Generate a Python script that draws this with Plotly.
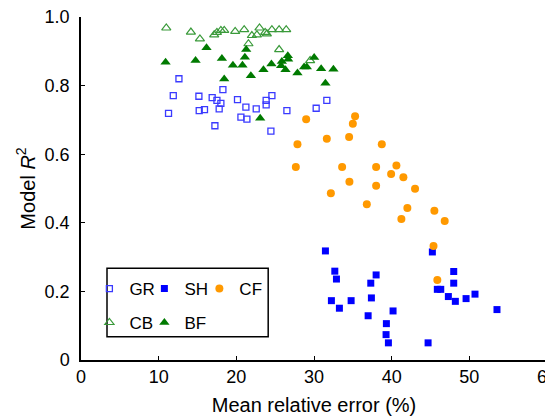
import plotly.graph_objects as go

# ---- data ----
gr_x = [12.61, 11.88, 11.27, 15.18, 16.89, 17.50, 18.01, 18.27, 17.79, 15.22, 15.90, 17.24,
        20.15, 21.23, 22.56, 23.84, 24.58, 23.84, 20.59, 21.36, 26.51, 24.45, 30.28, 31.65]
gr_y = [0.820, 0.771, 0.719, 0.769, 0.765, 0.757, 0.748, 0.788, 0.732, 0.727, 0.730, 0.683,
        0.759, 0.737, 0.732, 0.757, 0.771, 0.744, 0.708, 0.702, 0.727, 0.667, 0.734, 0.757]

sh_x = [31.47, 32.68, 32.89, 32.24, 33.27, 34.78, 38.00, 37.31, 37.39, 40.18, 36.97, 39.32,
        39.28, 39.58, 44.69, 45.24, 47.99, 47.99, 45.88, 46.32, 47.30, 48.20, 49.58, 50.73, 53.56]
sh_y = [0.318, 0.259, 0.236, 0.173, 0.151, 0.173, 0.248, 0.224, 0.181, 0.143, 0.129, 0.106,
        0.074, 0.050, 0.050, 0.315, 0.258, 0.224, 0.206, 0.206, 0.185, 0.171, 0.179, 0.192, 0.147]

cf_x = [28.99, 31.65, 35.29, 35.00, 27.87, 34.52, 38.73, 27.66, 33.62, 38.00, 40.61, 39.93,
        41.51, 34.56, 38.00, 32.17, 43.01, 36.80, 42.02, 41.25, 45.50, 46.83, 45.39, 45.88]
cf_y = [0.702, 0.645, 0.711, 0.689, 0.629, 0.650, 0.629, 0.563, 0.563, 0.563, 0.567, 0.542,
        0.533, 0.520, 0.508, 0.486, 0.499, 0.454, 0.443, 0.411, 0.435, 0.405, 0.332, 0.233]

cb_x = [10.98, 14.15, 15.31, 17.15, 17.50, 18.01, 18.44, 19.85, 21.01, 22.00, 22.65, 22.98,
        23.71, 23.93, 24.58, 25.51, 26.42, 21.56, 25.51, 29.50]
cb_y = [0.968, 0.956, 0.936, 0.948, 0.955, 0.961, 0.961, 0.958, 0.963, 0.946, 0.948, 0.968,
        0.955, 0.951, 0.963, 0.963, 0.963, 0.922, 0.905, 0.873]

bf_x = [16.16, 10.89, 14.75, 18.14, 18.44, 21.27, 21.10, 19.56, 20.79, 21.87, 23.49, 24.52,
        25.86, 25.77, 26.63, 26.67, 26.33, 27.87, 28.73, 29.08, 30.02, 30.92, 32.50, 31.47, 23.07]
bf_y = [0.910, 0.868, 0.873, 0.879, 0.819, 0.905, 0.883, 0.859, 0.859, 0.829, 0.846, 0.863,
        0.870, 0.858, 0.887, 0.877, 0.846, 0.837, 0.854, 0.854, 0.882, 0.849, 0.848, 0.807, 0.705]

x_ticks = [0, 10, 20, 30, 40, 50, 60]
y_ticks = [0, 0.2, 0.4, 0.6, 0.8, 1.0]
y_tick_text = ["0", "0.2", "0.4", "0.6", "0.8", "1.0"]

FONT = "Liberation Sans, Arial, sans-serif"

fig = go.Figure()
fig.add_trace(go.Scatter(x=gr_x, y=gr_y, mode="markers", name="GR", legend="legend",
                         marker=dict(symbol="square-open", size=6, color="#3a3aff",
                                     line=dict(width=1.3, color="#3a3aff"))))
fig.add_trace(go.Scatter(x=sh_x, y=sh_y, mode="markers", name="SH", legend="legend2",
                         marker=dict(symbol="square", size=7, color="#0000ff")))
fig.add_trace(go.Scatter(x=cf_x, y=cf_y, mode="markers", name="CF", legend="legend3",
                         marker=dict(symbol="circle", size=8, color="#ff9900")))
fig.add_trace(go.Scatter(x=cb_x, y=cb_y, mode="markers", name="CB", legend="legend4",
                         marker=dict(symbol="triangle-up-open", size=8, color="#3a9a3a",
                                     line=dict(width=1.2, color="#3a9a3a"))))
fig.add_trace(go.Scatter(x=bf_x, y=bf_y, mode="markers", name="BF", legend="legend5",
                         marker=dict(symbol="triangle-up", size=9, color="#007a00")))


def leg(x, y):
    return dict(x=x, y=y, orientation="h", xanchor="left", yanchor="middle",
                font=dict(family=FONT, size=17, color="black"),
                bgcolor="rgba(0,0,0,0)", borderwidth=0, itemwidth=30)


row1, row2 = 0.207, 0.108
col1, col2, col3 = 0.018, 0.136, 0.254

fig.update_layout(
    width=553, height=418,
    margin=dict(l=73, r=14, t=9, b=66),
    paper_bgcolor="white", plot_bgcolor="white",
    font=dict(family=FONT, size=18, color="black"),
    showlegend=True,
    legend=leg(col1, row1),
    legend2=leg(col2, row1),
    legend3=leg(col3, row1),
    legend4=leg(col1, row2),
    legend5=leg(col2, row2),
    xaxis=dict(range=[0, 60], tickvals=x_ticks, ticks="inside", ticklen=4, tickwidth=1.3,
               tickcolor="black", showline=True, linecolor="black", linewidth=1.5,
               showgrid=False, zeroline=False, tickfont=dict(size=18), automargin=False,
               ticklabeloverflow="allow",
               title=dict(text="Mean relative error (%)", font=dict(size=20), standoff=12)),
    yaxis=dict(range=[0, 1.0], tickvals=y_ticks, ticktext=y_tick_text, ticks="inside",
               ticklen=4, tickwidth=1.3, tickcolor="black", showline=True,
               linecolor="black", linewidth=1.5, showgrid=False, zeroline=False,
               tickfont=dict(size=18), ticklabelstandoff=6, automargin=False,
               ticklabeloverflow="allow",
               title=dict(text="Model <i>R</i><sup>2</sup>", font=dict(size=20), standoff=4)),
    shapes=[dict(type="rect", xref="paper", yref="paper", x0=0.0558, x1=0.4017,
                 y0=0.068, y1=0.2676, line=dict(color="black", width=1.5))],
)

fig.write_html("out.html")
